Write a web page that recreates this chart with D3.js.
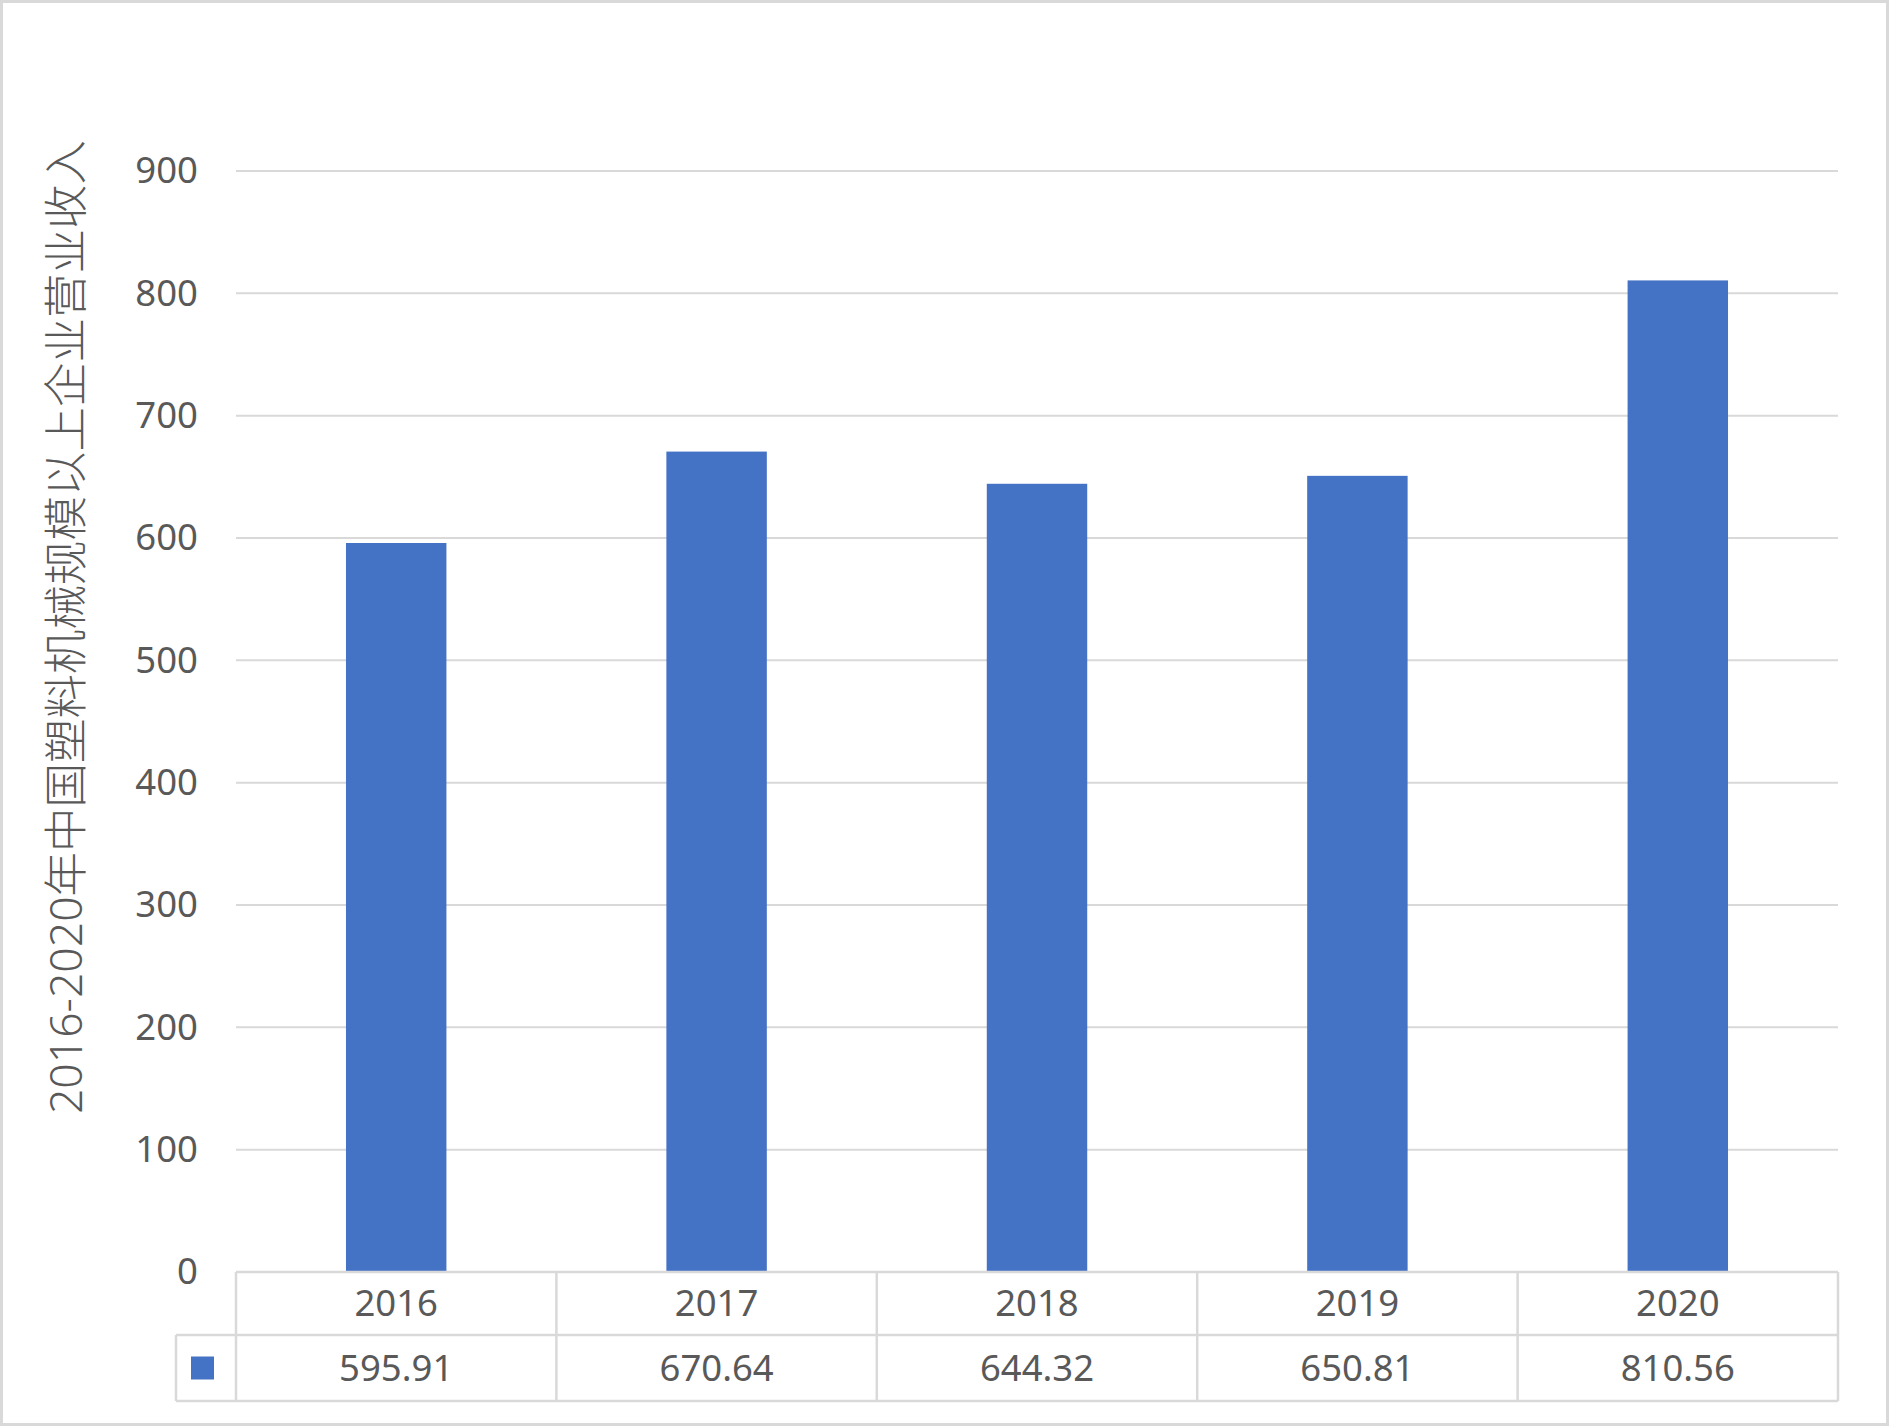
<!DOCTYPE html>
<html>
<head>
<meta charset="utf-8">
<script src="https://cdn.jsdelivr.net/npm/d3@7"></script>
<style>
  html, body { margin: 0; padding: 0; background: #fff; }
  svg { display: block; }
  text { font-family: "Noto Sans", "Open Sans", sans-serif; fill: #595959; }
</style>
</head>
<body>
<svg id="chart" width="1891" height="1426"></svg>
<script>
const categories = ["2016", "2017", "2018", "2019", "2020"];
const values = [595.91, 670.64, 644.32, 650.81, 810.56];
const valueLabels = ["595.91", "670.64", "644.32", "650.81", "810.56"];
const yTicks = [0, 100, 200, 300, 400, 500, 600, 700, 800, 900];
const yTitle = "2016-2020年中国塑料机械规模以上企业营业收入";

const W = 1891, H = 1426;
const plot = { left: 236, right: 1838, top: 171, bottom: 1272 };
const tableRow1 = 1335, tableBottom = 1401, legendLeft = 176;
const gridColor = "#d9d9d9", barColor = "#4472C4";
const labelSize = 36.5;

const svg = d3.select("#chart");

// outer border
svg.append("rect")
  .attr("x", 1.5).attr("y", 1.5)
  .attr("width", W - 5).attr("height", H - 3)
  .attr("fill", "#fff").attr("stroke", gridColor).attr("stroke-width", 3);

const x = d3.scaleBand().domain(categories).range([plot.left, plot.right]).padding(0);
const y = d3.scaleLinear().domain([0, 900]).range([plot.bottom, plot.top]);

// gridlines
svg.append("g").selectAll("line").data(yTicks.filter(d => d > 0)).join("line")
  .attr("x1", plot.left).attr("x2", plot.right)
  .attr("y1", d => y(d)).attr("y2", d => y(d))
  .attr("stroke", gridColor).attr("stroke-width", 2);

// y axis labels
const yAxis = d3.axisLeft(y).tickValues(yTicks).tickSize(0).tickPadding(38);
const gy = svg.append("g").attr("transform", `translate(${plot.left},0)`).call(yAxis);
gy.select(".domain").remove();
gy.selectAll("text")
  .style("font-family", '"Noto Sans", "Open Sans", sans-serif')
  .attr("font-size", labelSize).attr("fill", "#595959");

// bars
const barW = x.bandwidth() / 3.19;
svg.append("g").selectAll("rect").data(categories).join("rect")
  .attr("x", d => x(d) + (x.bandwidth() - barW) / 2)
  .attr("width", barW)
  .attr("y", (d, i) => y(values[i]))
  .attr("height", (d, i) => y(0) - y(values[i]))
  .attr("fill", barColor);

// data table
const tg = svg.append("g").attr("stroke", gridColor).attr("stroke-width", 2.5).attr("fill", "none");
tg.append("line").attr("x1", plot.left).attr("x2", plot.right).attr("y1", plot.bottom).attr("y2", plot.bottom);
tg.append("line").attr("x1", legendLeft).attr("x2", plot.right).attr("y1", tableRow1).attr("y2", tableRow1);
tg.append("line").attr("x1", legendLeft).attr("x2", plot.right).attr("y1", tableBottom).attr("y2", tableBottom);
const colEdges = categories.map(c => x(c)).concat([plot.right]);
tg.selectAll(".v").data(colEdges).join("line")
  .attr("x1", d => d).attr("x2", d => d)
  .attr("y1", plot.bottom).attr("y2", tableBottom);
tg.append("line").attr("x1", legendLeft).attr("x2", legendLeft).attr("y1", tableRow1).attr("y2", tableBottom);

// category labels
svg.append("g").selectAll("text").data(categories).join("text")
  .attr("x", d => x(d) + x.bandwidth() / 2)
  .attr("y", (plot.bottom + tableRow1) / 2)
  .attr("dy", "0.35em")
  .attr("text-anchor", "middle")
  .attr("font-size", labelSize)
  .text(d => d);

// value labels
svg.append("g").selectAll("text").data(valueLabels).join("text")
  .attr("x", (d, i) => x(categories[i]) + x.bandwidth() / 2)
  .attr("y", (tableRow1 + tableBottom) / 2)
  .attr("dy", "0.35em")
  .attr("text-anchor", "middle")
  .attr("font-size", labelSize)
  .text(d => d);

// legend key
svg.append("rect")
  .attr("x", 191).attr("y", (tableRow1 + tableBottom) / 2 - 11.5)
  .attr("width", 23).attr("height", 23)
  .attr("fill", barColor);

// y title
svg.append("text")
  .attr("transform", `translate(66, 627) rotate(-90)`)
  .attr("text-anchor", "middle")
  .attr("dy", "0.35em")
  .attr("font-size", 44.5)
  .attr("font-weight", 300)
  .style("font-family", '"Noto Sans", "Noto Sans CJK SC", sans-serif')
  .text(yTitle);
</script>
</body>
</html>
